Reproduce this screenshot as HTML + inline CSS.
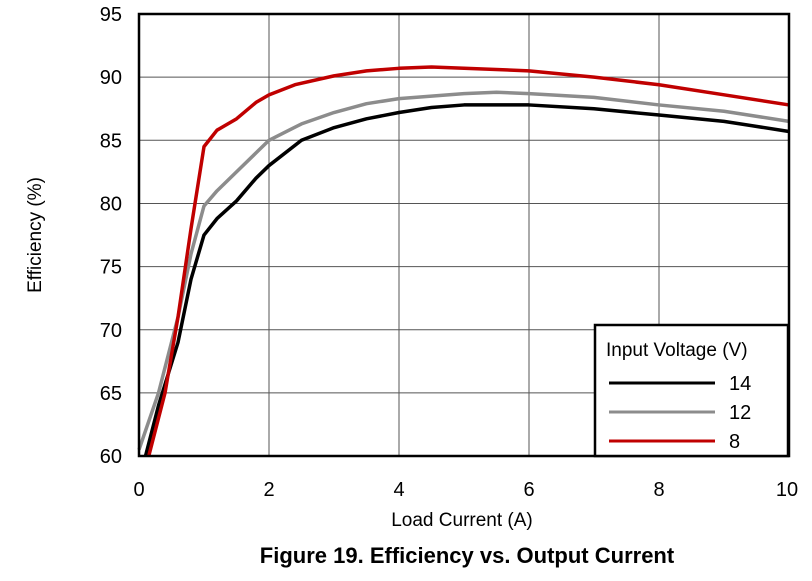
<!DOCTYPE html>
<html><head><meta charset="utf-8"><style>
body{margin:0;background:#fff;}
svg{display:block;font-family:"Liberation Sans",Arial,sans-serif;}
</style></head><body>
<svg id="s" width="812" height="581" viewBox="0 0 812 581" xmlns="http://www.w3.org/2000/svg">
<g id="grid" stroke="#555" stroke-width="1"></g>
<g id="curves" fill="none" stroke-width="3.5" stroke-linejoin="round"></g>
<rect x="139" y="14" width="650" height="442" fill="none" stroke="#000" stroke-width="2.5"/>
<g font-size="20" fill="#000" text-anchor="end" id="yl"></g>
<g font-size="20" fill="#000" text-anchor="middle" id="xl"></g>
<text x="462" y="526" font-size="19" text-anchor="middle">Load Current (A)</text>
<text transform="translate(41,235) rotate(-90)" font-size="19" text-anchor="middle">Efficiency (%)</text>
<text x="467" y="563" font-size="22" font-weight="bold" text-anchor="middle">Figure 19. Efficiency vs. Output Current</text>
<rect x="595" y="325" width="193" height="131" fill="#fff" stroke="#000" stroke-width="2.5"/>
<text x="606" y="356" font-size="19">Input Voltage (V)</text>
<line x1="609" y1="383" x2="715" y2="383" stroke="#000" stroke-width="3"/>
<line x1="609" y1="412" x2="715" y2="412" stroke="#8c8c8c" stroke-width="3"/>
<line x1="609" y1="441" x2="715" y2="441" stroke="#c00000" stroke-width="3"/>
<text x="729" y="390" font-size="20">14</text>
<text x="729" y="419" font-size="20">12</text>
<text x="729" y="448" font-size="20">8</text>
</svg>
<script>
var X=function(x){return 139+65*x},Y=function(e){return 14+(95-e)*12.63};
var ns="http://www.w3.org/2000/svg",g=document.getElementById('grid');
function el(p,t,a){var e=document.createElementNS(ns,t);for(var k in a)e.setAttribute(k,a[k]);p.appendChild(e);return e;}
for(var i=1;i<5;i++)el(g,'line',{x1:X(2*i),x2:X(2*i),y1:14,y2:456});
for(var v=65;v<95;v+=5)el(g,'line',{x1:139,x2:789,y1:Y(v),y2:Y(v)});
var yl=document.getElementById('yl');
for(var v=60;v<=95;v+=5)el(yl,'text',{x:122,y:Y(v)+7}).textContent=v;
var xl=document.getElementById('xl');
for(var i=0;i<=5;i++)el(xl,'text',{x:X(2*i)+(i==5?-2:0),y:496}).textContent=2*i;
var d={
"#8c8c8c":[[0,60.5],[0.3,65],[0.6,71],[0.8,76],[1,79.8],[1.2,81],[1.5,82.5],[1.8,84],[2,85],[2.5,86.3],[3,87.2],[3.5,87.9],[4,88.3],[5,88.7],[5.5,88.8],[6,88.7],[7,88.4],[8,87.8],[9,87.3],[10,86.5]],
"#000":[[0.1,60],[0.3,64],[0.6,69],[0.8,74],[1,77.5],[1.2,78.8],[1.5,80.2],[1.8,82],[2,83],[2.5,85],[3,86],[3.5,86.7],[4,87.2],[4.5,87.6],[5,87.8],[6,87.8],[7,87.5],[8,87],[9,86.5],[10,85.7]],
"#c00000":[[0.15,60],[0.4,65],[0.6,71],[0.8,78],[1,84.5],[1.2,85.8],[1.5,86.7],[1.8,88],[2,88.6],[2.4,89.4],[3,90.1],[3.5,90.5],[4,90.7],[4.5,90.8],[5,90.7],[6,90.5],[7,90],[8,89.4],[9,88.6],[10,87.8]]};
var c=document.getElementById('curves');
for(var k in d)el(c,'polyline',{stroke:k,points:d[k].map(function(p){return X(p[0])+','+Y(p[1])}).join(' ')});
</script>
</body></html>
